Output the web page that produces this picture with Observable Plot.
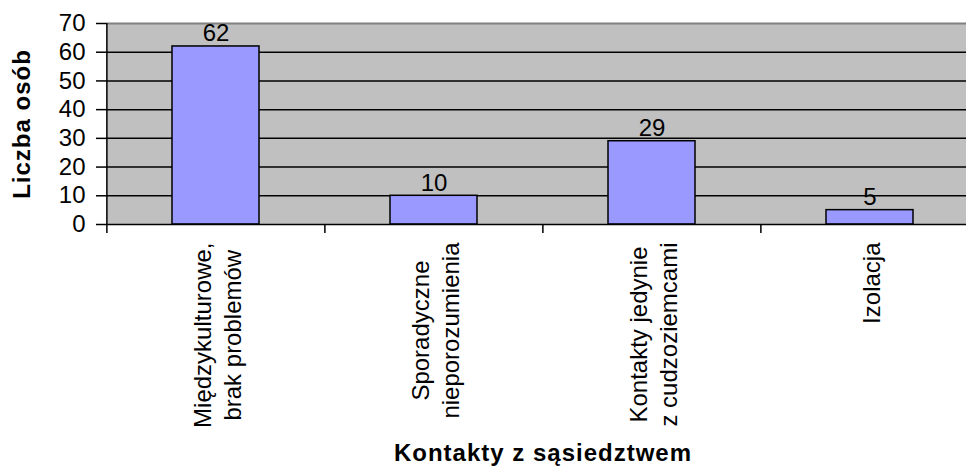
<!DOCTYPE html>
<html><head><meta charset="utf-8">
<script src="https://cdn.jsdelivr.net/npm/d3@7"></script>
<script src="https://cdn.jsdelivr.net/npm/@observablehq/plot@0.6"></script>
<style>
html,body{margin:0;padding:0;background:#fff;overflow:hidden;}
</style></head><body><div id="chart"></div>
<script>
const categories = ["Międzykulturowe,\nbrak problemów","Sporadyczne\nnieporozumienia","Kontakty jedynie\nz cudzoziemcami","Izolacja"];
const values = [62, 10, 29, 5];
const yTicks = [0, 10, 20, 30, 40, 50, 60, 70];
const xTitle = "Kontakty z sąsiedztwem";
const yTitle = "Liczba osób";

const data = categories.map((c, i) => ({category: c, value: values[i]}));

const W = 980, H = 466, ML = 106, MR = 1, MT = 23, MB = 242;
const FONT = "'Liberation Sans', Arial, sans-serif";
const step = (W - ML - MR) / categories.length;

// measure label lines to anchor each rotated block just below the axis
const ctx = document.createElement("canvas").getContext("2d");
ctx.font = "24px 'Liberation Sans'";
const blockLen = c => Math.max(...c.split("\n").map(s => ctx.measureText(s).width));

const labelMarks = categories.map(c => Plot.text([c], {
  x: d => d, y: () => 0, text: d => d,
  rotate: -90, textAnchor: "middle", lineAnchor: "middle", lineHeight: 1.25,
  fontSize: 24, fill: "#000", dy: 18 + blockLen(c) / 2
}));

const chart = Plot.plot({
  width: W, height: H,
  marginLeft: ML, marginRight: MR, marginTop: MT, marginBottom: MB,
  style: {fontFamily: FONT, fontSize: "24px", color: "#000", background: "#fff", overflow: "visible", maxWidth: "none"},
  x: {type: "band", domain: categories, paddingInner: 0.6, paddingOuter: 0.3, axis: null},
  y: {domain: [0, 70], axis: null},
  marks: [
    Plot.frame({fill: "#c0c0c0", stroke: null}),
    Plot.ruleY(yTicks.filter(d => d > 0 && d < 70), {stroke: "#000", strokeWidth: 1.5}),
    Plot.ruleY([70], {stroke: "#808080", strokeWidth: 2}),
    Plot.barY(data, {x: "category", y: "value", fill: "#9999ff", stroke: "#000", strokeWidth: 1.5}),
    Plot.ruleY([0], {stroke: "#000", strokeWidth: 1.5}),
    Plot.ruleX([categories[0]], {x: d => d, dx: -step / 2, stroke: "#000", strokeWidth: 1.5}),
    Plot.ruleX(categories, {x: d => d, y1: () => 0, y2: () => 0, insetBottom: -9, dx: -step / 2, stroke: "#000", strokeWidth: 1.5}),
    Plot.ruleX([categories[categories.length - 1]], {x: d => d, y1: () => 0, y2: () => 0, insetBottom: -9, dx: step / 2, stroke: "#000", strokeWidth: 1.5}),
    Plot.axisY({ticks: yTicks, tickSize: 10, tickPadding: 11, fontSize: 24, label: null, stroke: "#000", strokeWidth: 1.5}),
    Plot.text(data, {x: "category", y: "value", text: d => String(d.value), dy: -5, lineAnchor: "bottom", fontSize: 24, fill: "#000"}),
    ...labelMarks,
    Plot.text([xTitle], {text: d => d, frameAnchor: "bottom", dy: 236, lineAnchor: "bottom", fontSize: 24, fontWeight: "bold", fill: "#000"}),
    Plot.text([yTitle], {text: d => d, frameAnchor: "left", dx: -84, rotate: -90, textAnchor: "middle", lineAnchor: "middle", fontSize: 24, fontWeight: "bold", fill: "#000"})
  ]
});
d3.select(chart).selectAll("text").filter(function() { return this.textContent === xTitle || this.textContent === yTitle; }).style("letter-spacing", "1px");
document.getElementById("chart").appendChild(chart);
</script></body></html>
